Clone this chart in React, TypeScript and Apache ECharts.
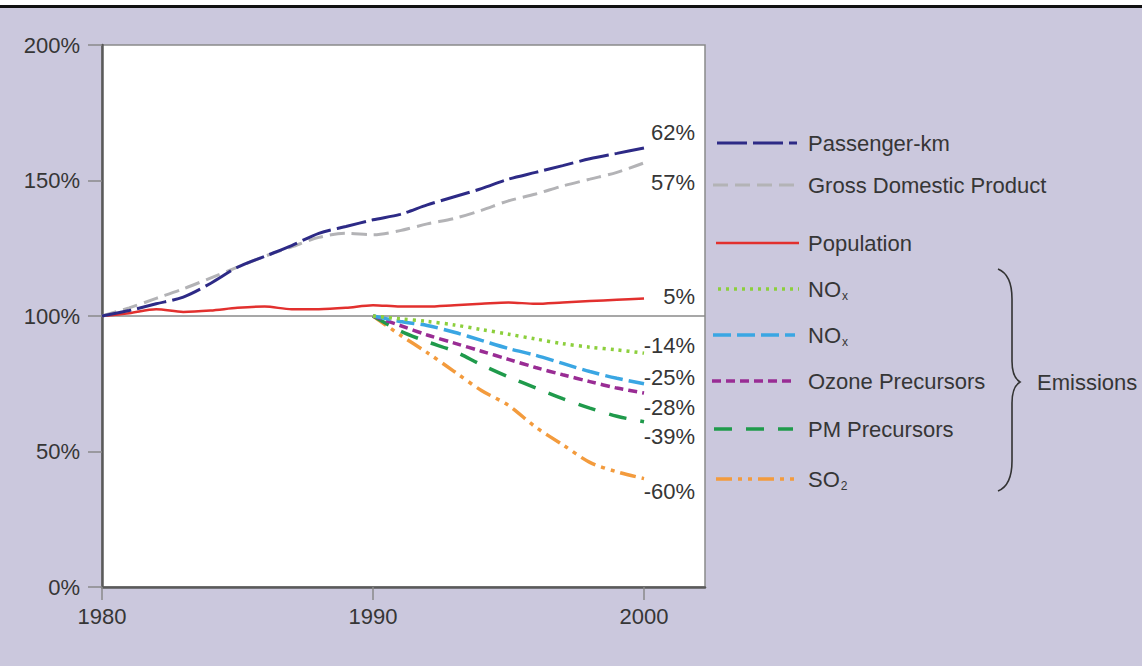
import React, { useEffect, useRef } from 'react';
import * as echarts from 'echarts';

// ---------- data ----------
const years = [1980, 1981, 1982, 1983, 1984, 1985, 1986, 1987, 1988, 1989, 1990, 1991, 1992, 1993, 1994, 1995, 1996, 1997, 1998, 1999, 2000];
const emissionYears = [1990, 1991, 1992, 1993, 1994, 1995, 1996, 1997, 1998, 1999, 2000];

const passengerKm = [100, 102, 104.5, 107, 112, 118, 122, 126, 130.5, 133, 135.5, 137.5, 141, 144, 147, 150.5, 153, 155.5, 158, 160, 162];
const gdp = [100, 103, 106.5, 110, 114, 118, 122, 125.5, 129, 130.5, 130, 131.5, 134, 136, 139, 142.5, 145, 148, 150.5, 153, 156.5];
const population = [100, 101, 102.5, 101.5, 102, 103, 103.5, 102.5, 102.5, 103, 104, 103.5, 103.5, 104, 104.5, 105, 104.5, 105, 105.5, 106, 106.5];

const noxDotted = [100, 99, 98, 96.7, 95, 93.3, 91.5, 89.8, 88.5, 87.5, 86.3];
const noxDashed = [100, 98, 96.5, 94, 91, 88, 85.5, 82.5, 79.5, 77, 75];
const ozonePrecursors = [100, 96.5, 93, 90, 87, 84, 81, 78.3, 75.8, 73.4, 71.6];
const pmPrecursors = [100, 94.5, 90.5, 87, 82, 77.5, 73.5, 69.5, 66, 63, 61];
const so2 = [100, 93, 86.5, 79.5, 72.5, 67, 59, 52.5, 46, 42.5, 40];

const endLabels = ['62%', '57%', '5%', '-14%', '-25%', '-28%', '-39%', '-60%'];
const xTickValues = [1980, 1990, 2000];

const FONT = '"Liberation Sans", Arial, Helvetica, sans-serif';
const TEXT = '#363636';
const FS = 22;

const zip = (xs: number[], ys: number[]) => xs.map((x, i) => [x, ys[i]]);

type Spec = {
  name: string;
  legend: string;
  xs: number[];
  ys: number[];
  color: string;
  width: number;
  dash: number[] | 'solid';
  labelDy: number;
  legendY: number;
  legendX1: number;
  legendX2: number;
};

const specs: Spec[] = [
  { name: 'Passenger-km', legend: 'Passenger-km', xs: years, ys: passengerKm, color: '#2d2a86', width: 3, dash: [30, 6], labelDy: -15, legendY: 143, legendX1: 717, legendX2: 797 },
  { name: 'Gross Domestic Product', legend: 'Gross Domestic Product', xs: years, ys: gdp, color: '#b3b3b6', width: 3, dash: [15, 7], labelDy: 20, legendY: 185, legendX1: 713, legendX2: 797 },
  { name: 'Population', legend: 'Population', xs: years, ys: population, color: '#e2302e', width: 2.5, dash: 'solid', labelDy: -2, legendY: 243, legendX1: 716, legendX2: 799 },
  { name: 'NOx', legend: 'NO{s|x}', xs: emissionYears, ys: noxDotted, color: '#8ccf3c', width: 3.5, dash: [3, 5], labelDy: -8, legendY: 289, legendX1: 718, legendX2: 799 },
  { name: 'NOx ', legend: 'NO{s|x}', xs: emissionYears, ys: noxDashed, color: '#3aa6e3', width: 3.5, dash: [18, 6], labelDy: -6, legendY: 335, legendX1: 713, legendX2: 795 },
  { name: 'Ozone Precursors', legend: 'Ozone Precursors', xs: emissionYears, ys: ozonePrecursors, color: '#992c94', width: 3.5, dash: [9, 5], labelDy: 15, legendY: 381, legendX1: 712, legendX2: 792 },
  { name: 'PM Precursors', legend: 'PM Precursors', xs: emissionYears, ys: pmPrecursors, color: '#1f9a4b', width: 3.5, dash: [18, 14], labelDy: 15, legendY: 429, legendX1: 714, legendX2: 793 },
  { name: 'SO2', legend: 'SO{s|2}', xs: emissionYears, ys: so2, color: '#f39b3d', width: 3.5, dash: [16, 6, 4, 6, 4, 6], labelDy: 13, legendY: 479, legendX1: 716, legendX2: 798 },
];

const BRACE_D = 'M0 0 C 10 4, 14 14, 14 30 L 14 92 C 14 104, 17 110, 22 113 C 17 116, 14 122, 14 134 L 14 192 C 14 208, 10 218, 0 222';

let registered = false;
function ensureShape() {
  if (registered) return;
  echarts.graphic.registerShape('brace', echarts.graphic.extendPath(BRACE_D, {}) as any);
  registered = true;
}

export default function App() {
  const ref = useRef<HTMLDivElement>(null);

  useEffect(() => {
    ensureShape();
    const chart = echarts.init(ref.current!, null, { renderer: 'svg' });

    const series: any[] = specs.map((s, i) => {
      const data = zip(s.xs, s.ys);
      const last = data[data.length - 1];
      const ser: any = {
        name: s.name,
        type: 'line',
        data,
        showSymbol: false,
        symbol: 'none',
        smooth: 0.3,
        z: 3 + (specs.length - i),
        lineStyle: {
          color: s.color,
          width: s.width,
          type: s.dash,
          cap: 'butt',
        },
        markPoint: {
          symbol: 'circle',
          symbolSize: 0.1,
          silent: true,
          itemStyle: { color: 'transparent' },
          data: [{ coord: last }],
          label: {
            show: true,
            formatter: endLabels[i],
            position: 'right',
            distance: 0,
            align: 'right',
            verticalAlign: 'middle',
            offset: [51, s.labelDy],
            color: TEXT,
            fontFamily: FONT,
            fontSize: FS,
          },
        },
      };
      if (i === 2) {
        ser.markLine = {
          silent: true,
          symbol: ['none', 'none'],
          label: { show: false },
          lineStyle: { color: '#8a8a8a', width: 1.5, type: 'solid' },
          data: [{ yAxis: 100 }],
          z: 2,
        };
      }
      return ser;
    });

    const graphics: any[] = [
      { type: 'rect', shape: { x: 0, y: 0, width: 1142, height: 5 }, style: { fill: '#ffffff' }, silent: true },
      { type: 'rect', shape: { x: 0, y: 5, width: 1142, height: 3 }, style: { fill: '#111111' }, silent: true },
    ];

    specs.forEach((s) => {
      graphics.push({
        type: 'line',
        silent: true,
        shape: { x1: s.legendX1, y1: s.legendY, x2: s.legendX2, y2: s.legendY },
        style: {
          stroke: s.color,
          lineWidth: s.width,
          lineDash: s.dash === 'solid' ? null : s.dash,
        },
      });
      graphics.push({
        type: 'text',
        silent: true,
        x: 808,
        y: s.legendY,
        style: {
          text: s.legend,
          font: `${FS}px ${FONT}`,
          fill: TEXT,
          verticalAlign: 'middle',
          align: 'left',
          rich: {
            s: { fontSize: 12, fontFamily: FONT, fill: TEXT, padding: [14, 0, 0, 1] },
          },
        },
      });
    });

    graphics.push({
      type: 'brace',
      x: 998,
      y: 269,
      silent: true,
      style: { fill: 'none', stroke: '#333333', lineWidth: 1.6 },
    });
    graphics.push({
      type: 'text',
      silent: true,
      x: 1037,
      y: 382,
      style: {
        text: 'Emissions',
        font: `${FS}px ${FONT}`,
        fill: TEXT,
        verticalAlign: 'middle',
        align: 'left',
      },
    });

    chart.setOption({
      animation: false,
      backgroundColor: '#cbc8dd',
      textStyle: { fontFamily: FONT },
      grid: {
        left: 102,
        right: 437,
        top: 45,
        bottom: 79,
        show: true,
        backgroundColor: '#ffffff',
        borderColor: '#8a8a8a',
        borderWidth: 1.5,
      },
      xAxis: {
        type: 'value',
        min: 1980,
        max: 2002.25,
        interval: 10,
        splitLine: { show: false },
        axisLine: { show: true, lineStyle: { color: '#5a5a5a', width: 2.5 } },
        axisTick: { show: true, length: 13, customValues: xTickValues, lineStyle: { color: '#8a8a8a', width: 1.5 } },
        axisLabel: {
          customValues: xTickValues,
          formatter: (v: number) => String(v),
          color: TEXT,
          fontSize: FS,
          fontFamily: FONT,
          margin: 18,
        },
      },
      yAxis: {
        type: 'value',
        min: 0,
        max: 200,
        interval: 50,
        splitLine: { show: false },
        axisLine: { show: true, lineStyle: { color: '#5a5a5a', width: 2.5 } },
        axisTick: { show: true, length: 14, lineStyle: { color: '#8a8a8a', width: 1.5 } },
        axisLabel: {
          formatter: '{value}%',
          color: TEXT,
          fontSize: FS,
          fontFamily: FONT,
          margin: 22,
        },
      },
      series,
      graphic: graphics,
    });

    return () => {
      chart.dispose();
    };
  }, []);

  return (
    <div
      ref={ref}
      style={{ position: 'absolute', left: 0, top: 0, width: 1142, height: 666 }}
    />
  );
}
